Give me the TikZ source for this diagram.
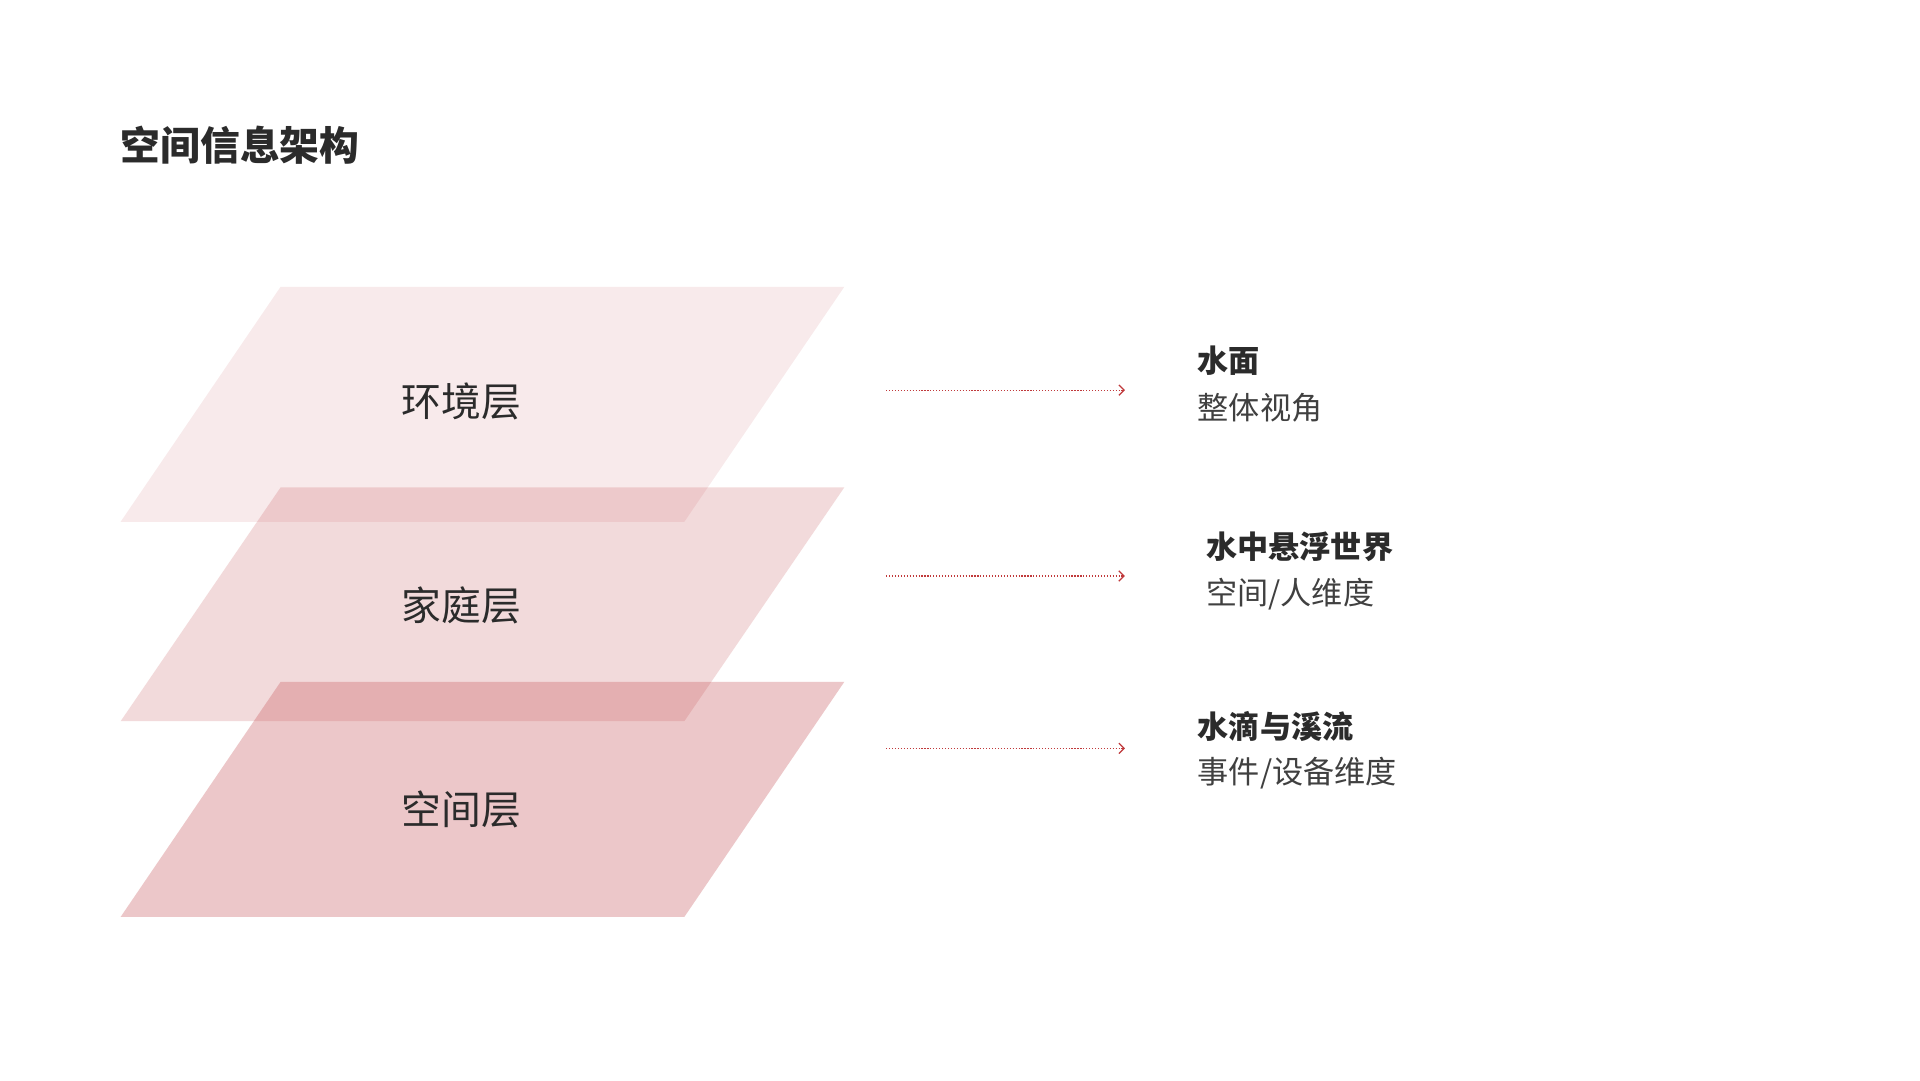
\documentclass[tikz,border=0pt]{standalone}
\usepackage{fontspec}
\newfontfamily\cjk{Noto Sans CJK SC}
\usetikzlibrary{arrows.meta}
\definecolor{txt}{HTML}{2B2B2B}
\definecolor{lay}{HTML}{C8585C}
\definecolor{arr}{HTML}{C0393B}
\begin{document}
\begin{tikzpicture}[x=0.05cm,y=-0.05cm,
  layer/.style={fill=lay,draw=none},
  lbl/.style={font=\cjk\fontsize{46}{50}\selectfont,text=txt,inner sep=0},
  head/.style={font=\cjk\bfseries\fontsize{36}{40}\selectfont,text=txt,anchor=west,inner sep=0},
  sub/.style={font=\cjk\fontsize{36}{40}\selectfont,text=txt!90,anchor=west,inner sep=0},
  conn/.style={draw=arr,line width=1.4pt,dotted,-{Straight Barb[length=6pt,width=12pt,line width=1.4pt]}}]
\useasboundingbox (0,0) rectangle (1560,877.5);
\fill[white] (0,0) rectangle (1560,877.5);
\node[font=\cjk\bfseries\fontsize{46}{50}\selectfont,text=txt,anchor=west,inner sep=0] (title) at (98,118) {空间信息架构};
\fill[layer,opacity=0.12] (98,424) -- (556,424) -- (686,233) -- (228,233) -- cycle;
\fill[layer,opacity=0.22] (98,586) -- (556,586) -- (686,396) -- (228,396) -- cycle;
\fill[layer,opacity=0.33] (98,745) -- (556,745) -- (686,554) -- (228,554) -- cycle;
\node[lbl] (l1) at (375,326) {环境层};
\node[lbl] (l2) at (375,492) {家庭层};
\node[lbl] (l3) at (375,658) {空间层};
\coordinate (s1) at (720,317); \coordinate (e1) at (914,317);
\coordinate (s2) at (720,468); \coordinate (e2) at (914,468);
\coordinate (s3) at (720,608); \coordinate (e3) at (914,608);
\draw[conn] (s1) -- (e1);
\draw[conn] (s2) -- (e2);
\draw[conn] (s3) -- (e3);
\node[head] (h1) at (973,293) {水面};
\node[sub] (t1) at (973,331) {整体视角};
\node[head] (h2) at (980,444) {水中悬浮世界};
\node[sub] (t2) at (980,483) {空间/人维度};
\node[head] (h3) at (973,590) {水滴与溪流};
\node[sub] (t3) at (973,628) {事件/设备维度};
\end{tikzpicture}
\end{document}
